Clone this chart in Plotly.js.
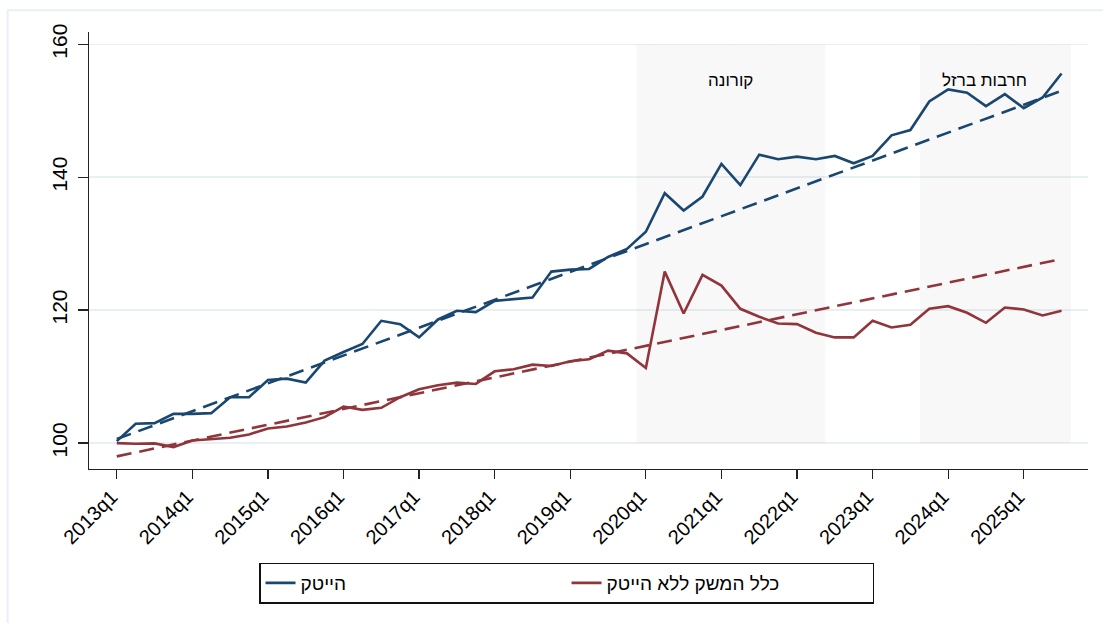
<!DOCTYPE html>
<html>
<head>
<meta charset="utf-8">
<script src="https://cdn.plot.ly/plotly-3.0.1.min.js"></script>
<style>
  html, body { margin: 0; padding: 0; background: #ffffff; }
  #chart { width: 1103px; height: 623px; }
</style>
</head>
<body>
<div id="chart"></div>
<script>
// ---- data ----
const quarters = [
  "2013q1","2013q2","2013q3","2013q4",
  "2014q1","2014q2","2014q3","2014q4",
  "2015q1","2015q2","2015q3","2015q4",
  "2016q1","2016q2","2016q3","2016q4",
  "2017q1","2017q2","2017q3","2017q4",
  "2018q1","2018q2","2018q3","2018q4",
  "2019q1","2019q2","2019q3","2019q4",
  "2020q1","2020q2","2020q3","2020q4",
  "2021q1","2021q2","2021q3","2021q4",
  "2022q1","2022q2","2022q3","2022q4",
  "2023q1","2023q2","2023q3","2023q4",
  "2024q1","2024q2","2024q3","2024q4",
  "2025q1","2025q2","2025q3"
];

const hitech = [
  100.3, 102.9, 103.0, 104.4,
  104.4, 104.5, 106.9, 106.9,
  109.5, 109.7, 109.1, 112.4,
  113.7, 114.9, 118.4, 117.9,
  115.9, 118.6, 119.9, 119.7,
  121.4, 121.7, 121.9, 125.8,
  126.1, 126.2, 128.0, 129.2,
  131.8, 137.6, 135.0, 137.1,
  142.0, 138.8, 143.4, 142.7,
  143.1, 142.7, 143.2, 142.1,
  143.2, 146.3, 147.1, 151.4,
  153.2, 152.7, 150.7, 152.5,
  150.4, 152.0, 155.6
];

const nonHitech = [
  100.0, 99.9, 99.95, 99.4,
  100.4, 100.6, 100.8, 101.3,
  102.2, 102.5, 103.1, 103.9,
  105.5, 105.0, 105.3, 106.9,
  108.1, 108.7, 109.1, 108.9,
  110.8, 111.1, 111.8, 111.6,
  112.3, 112.6, 113.9, 113.5,
  111.3, 125.8, 119.5, 125.3,
  123.7, 120.2, 119.0, 118.0,
  117.9, 116.6, 115.9, 115.9,
  118.4, 117.4, 117.8, 120.2,
  120.6, 119.6, 118.1, 120.4,
  120.1, 119.2, 119.9
];

const trendQuarters = ["2013q1", "2025q3"];
const hitechTrend = [100.6, 153.0];
const nonHitechTrend = [98.0, 127.7];

const coronaQuarters = ["2020q1","2020q2","2020q3","2020q4","2021q1","2021q2","2021q3","2021q4","2022q1","2022q2"];
const warQuarters = ["2023q4","2024q1","2024q2","2024q3","2024q4","2025q1","2025q2","2025q3"];
const shadeBase = 100;
const shadeTop = 160;

const tickLabels = ["2013q1","2014q1","2015q1","2016q1","2017q1","2018q1","2019q1","2020q1","2021q1","2022q1","2023q1","2024q1","2025q1"];
const yTicks = [100, 120, 140, 160];

const seriesNames = ["הייטק", "כלל המשק ללא הייטק"];
const periodNames = ["קורונה", "חרבות ברזל"];

// ---- styles ----
const BLUE = "#1a476f";
const RED = "#90353b";
const SHADE = "rgba(120,120,140,0.055)";
const GRID = "#e9f0f3";
const FONT = "Liberation Sans, Arial, sans-serif";

function shadeTrace(qs) {
  return {
    type: "bar",
    x: qs,
    y: qs.map(() => shadeTop - shadeBase),
    base: qs.map(() => shadeBase),
    width: 1,
    marker: { color: SHADE, line: { width: 0 } },
    showlegend: false,
    hoverinfo: "skip"
  };
}

const traces = [
  shadeTrace(coronaQuarters),
  shadeTrace(warQuarters),
  {
    type: "scatter", mode: "lines",
    x: trendQuarters, y: hitechTrend,
    line: { color: BLUE, width: 2.6, dash: "15px,8px" },
    showlegend: false, hoverinfo: "skip"
  },
  {
    type: "scatter", mode: "lines",
    x: trendQuarters, y: nonHitechTrend,
    line: { color: RED, width: 2.6, dash: "15px,8px" },
    showlegend: false, hoverinfo: "skip"
  },
  {
    type: "scatter", mode: "lines",
    name: seriesNames[0],
    x: quarters, y: hitech,
    line: { color: BLUE, width: 2.6 }
  },
  {
    type: "scatter", mode: "lines",
    name: seriesNames[1],
    x: quarters, y: nonHitech,
    line: { color: RED, width: 2.6 }
  }
];

const layout = {
  width: 1103,
  height: 623,
  margin: { l: 89, r: 15, t: 32, b: 154, pad: 0 },
  paper_bgcolor: "#ffffff",
  plot_bgcolor: "#ffffff",
  font: { family: FONT, size: 19, color: "#000000" },
  barmode: "overlay",
  xaxis: {
    type: "category",
    categoryorder: "array",
    categoryarray: quarters,
    range: [-1.47, 51.4],
    tickmode: "array",
    tickvals: tickLabels,
    ticktext: tickLabels,
    tickangle: -45,
    ticks: "outside",
    ticklen: 9,
    tickwidth: 1.3,
    tickcolor: "#222222",
    ticklabelshift: -5,
    ticklabelstandoff: -2,
    showline: true,
    linecolor: "#222222",
    linewidth: 1.3,
    showgrid: false,
    zeroline: false,
    tickfont: { family: FONT, size: 20, color: "#000000" },
    fixedrange: true
  },
  yaxis: {
    range: [96.1, 161.85],
    tickmode: "array",
    tickvals: yTicks,
    ticktext: yTicks.map(String),
    tickangle: -90,
    ticks: "outside",
    ticklen: 10,
    tickwidth: 1.3,
    tickcolor: "#222222",
    ticklabelstandoff: 2,
    showline: true,
    linecolor: "#222222",
    linewidth: 1.3,
    showgrid: true,
    gridcolor: GRID,
    gridwidth: 1.6,
    zeroline: false,
    tickfont: { family: FONT, size: 21, color: "#000000" },
    fixedrange: true
  },
  showlegend: true,
  legend: {
    orientation: "h",
    x: 0.478,
    xanchor: "center",
    y: -0.214,
    yanchor: "top",
    bordercolor: "#111111",
    borderwidth: 1.5,
    bgcolor: "#ffffff",
    font: { family: FONT, size: 19, color: "#000000" },
    entrywidth: 261,
    itemwidth: 30,
    tracegroupgap: 0
  },
  annotations: [
    {
      x: 32.5, y: 154.6, xref: "x", yref: "y",
      text: periodNames[0], showarrow: false,
      font: { family: FONT, size: 17, color: "#000000" }
    },
    {
      x: 45.9, y: 154.6, xref: "x", yref: "y",
      text: periodNames[1], showarrow: false,
      font: { family: FONT, size: 17, color: "#000000" }
    }
  ],
  shapes: [
    {
      type: "rect", xref: "paper", yref: "paper",
      x0: -0.0814, x1: 1.02, y0: -0.36, y1: 1.0496,
      line: { color: "#e9f0f3", width: 2 },
      fillcolor: "rgba(0,0,0,0)",
      layer: "below"
    }
  ]
};

Plotly.newPlot("chart", traces, layout, { displayModeBar: false, staticPlot: true });
</script>
</body>
</html>
